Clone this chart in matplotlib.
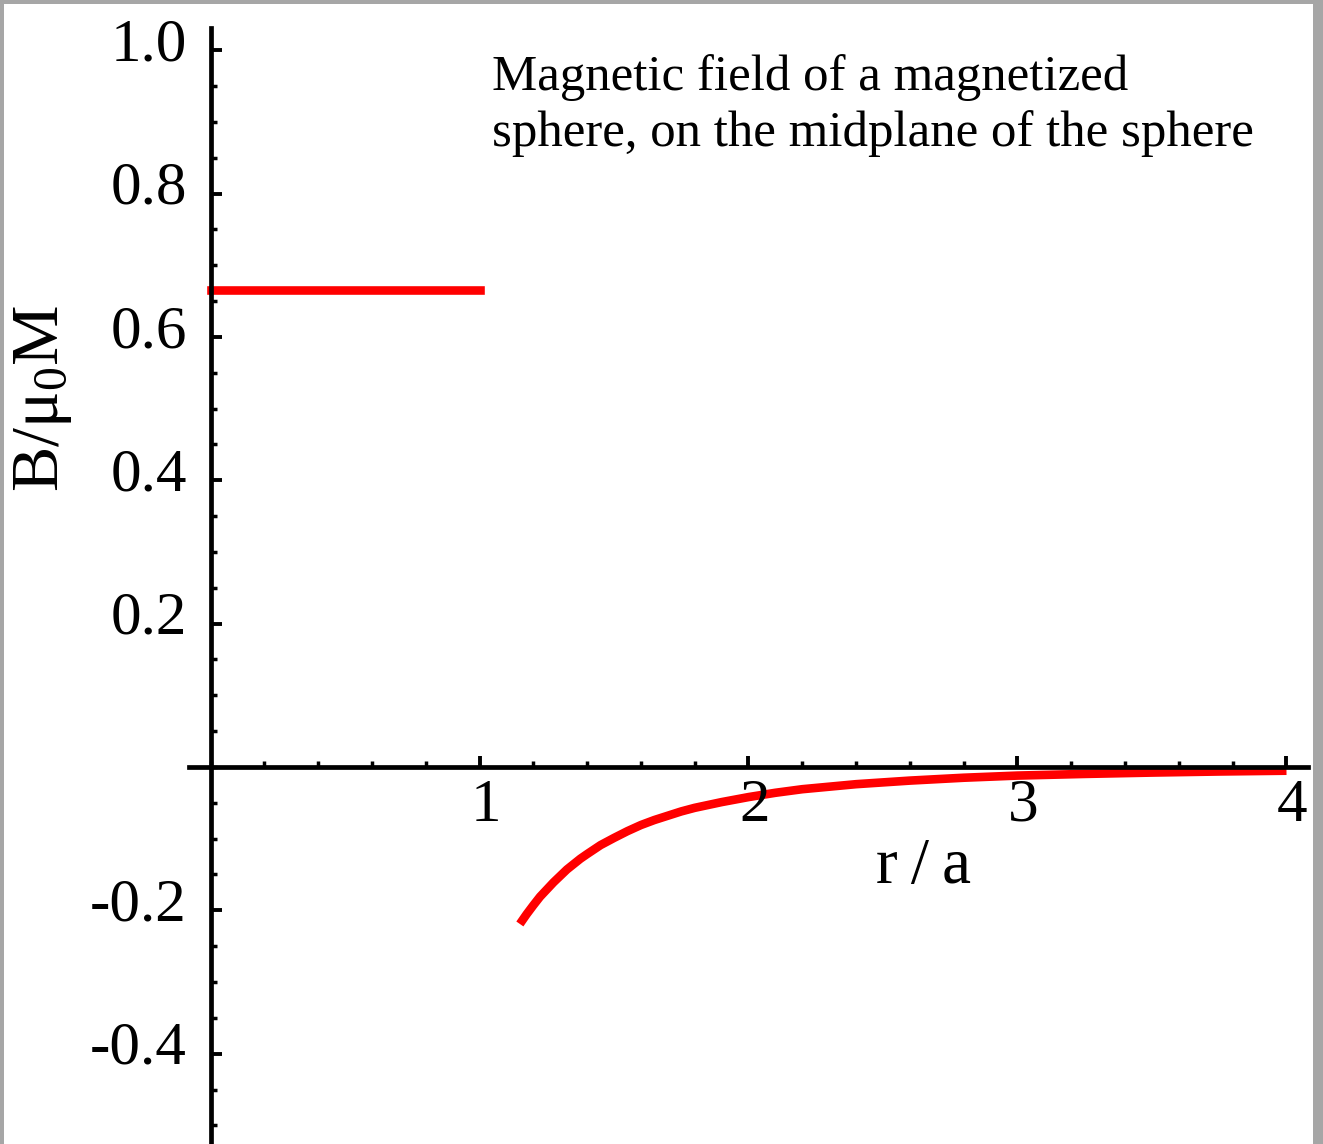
import matplotlib
matplotlib.use("Agg")
import matplotlib.pyplot as plt
from matplotlib.patches import Rectangle
from matplotlib.ticker import MultipleLocator, FixedLocator
import matplotlib.transforms as mtrans

# ---- data ----
r_inside = [0.0, 1.0]
B_inside = [0.666, 0.666]

r_outside = [1.15, 1.175, 1.2, 1.225, 1.25, 1.275, 1.3, 1.325, 1.35, 1.375,
             1.4, 1.45, 1.5, 1.55, 1.6, 1.65, 1.7, 1.75, 1.8, 1.9, 2.0, 2.1,
             2.2, 2.4, 2.6, 2.8, 3.0, 3.25, 3.5, 3.75, 4.0]
B_outside = [-0.219, -0.2055, -0.193, -0.181, -0.171, -0.161, -0.152, -0.143,
             -0.1355, -0.128, -0.1215, -0.109, -0.099, -0.0895, -0.081,
             -0.074, -0.068, -0.062, -0.057, -0.049, -0.042, -0.036, -0.031,
             -0.024, -0.019, -0.015, -0.012, -0.0097, -0.0078, -0.0063,
             -0.0052]

x_ticks = [1, 2, 3, 4]
x_ticklabels = ["1", "2", "3", "4"]
y_ticks = [-0.4, -0.2, 0.2, 0.4, 0.6, 0.8, 1.0]
y_ticklabels = ["-0.4", "-0.2", "0.2", "0.4", "0.6", "0.8", "1.0"]

title_lines = ["Magnetic field of a magnetized",
               "sphere, on the midplane of the sphere"]
xlabel = "r\u2009/\u2009a"
ylabel = r"B/$\mathregular{\mu_0}$M"

plt.rcParams['font.family'] = ['Liberation Serif', 'DejaVu Serif']
plt.rcParams['mathtext.fontset'] = 'custom'
plt.rcParams['mathtext.rm'] = 'Liberation Serif'
plt.rcParams['mathtext.it'] = 'Liberation Serif'

W, H = 1323, 1144
fig = plt.figure(figsize=(W / 100, H / 100), dpi=100)
fig.patch.set_facecolor('#a6a6a6')
bg = Rectangle((4 / W, 0), (1313 - 4) / W, (H - 4) / H,
               transform=fig.transFigure, facecolor='white',
               edgecolor='none', zorder=-10)
fig.patches.append(bg)

ax = fig.add_axes([189 / W, 0, (1308 - 189) / W, (H - 28) / H])
ax.set_zorder(1)
ax.patch.set_alpha(0)
ax.set_xlim(-0.08, 4.08)
ax.set_ylim(-0.526, 1.031)

ax.plot(r_inside, B_inside, color='#ff0000', lw=6.2, solid_capstyle='projecting', zorder=1)
ax.plot(r_outside, B_outside, color='#ff0000', lw=6.2, solid_capstyle='butt',
        solid_joinstyle='round', zorder=1)

for s in ['top', 'right']:
    ax.spines[s].set_visible(False)
ax.spines['left'].set_position(('data', 0))
ax.spines['bottom'].set_position(('data', 0))
for s in ['left', 'bottom']:
    ax.spines[s].set_linewidth(3.4)
    ax.spines[s].set_zorder(3)

ax.xaxis.set_major_locator(FixedLocator(x_ticks))
ax.set_xticklabels(x_ticklabels)
ax.yaxis.set_major_locator(FixedLocator(y_ticks))
ax.set_yticklabels(y_ticklabels)
ax.xaxis.set_minor_locator(MultipleLocator(0.2))
ax.yaxis.set_minor_locator(MultipleLocator(0.05))

ax.tick_params(axis='both', which='major', direction='in', length=8, width=2.8,
               labelsize=44, color='black')
ax.tick_params(axis='both', which='minor', direction='in', length=4.5, width=2.5)
ax.tick_params(axis='x', which='major', pad=8)
ax.tick_params(axis='y', which='major', pad=17)

xoff = mtrans.ScaledTranslation(6 / 100, 0, fig.dpi_scale_trans)
for lbl in ax.get_xticklabels():
    lbl.set_transform(lbl.get_transform() + xoff)
yoff = mtrans.ScaledTranslation(0, 11 / 100, fig.dpi_scale_trans)
for lbl in ax.get_yticklabels():
    lbl.set_transform(lbl.get_transform() + yoff)

fig.text(492 / W, 1 - 90 / H, title_lines[0], fontsize=36.6, ha='left', va='baseline')
fig.text(492 / W, 1 - 146 / H, title_lines[1], fontsize=36.6, ha='left', va='baseline')
fig.text(924 / W, 1 - 883 / H, xlabel, fontsize=47, ha='center', va='baseline')
fig.text(43 / W, 1 - 398 / H, ylabel, fontsize=49, ha='center', va='center', rotation=90)

fig.savefig('out.png', dpi=100, facecolor=fig.get_facecolor())
